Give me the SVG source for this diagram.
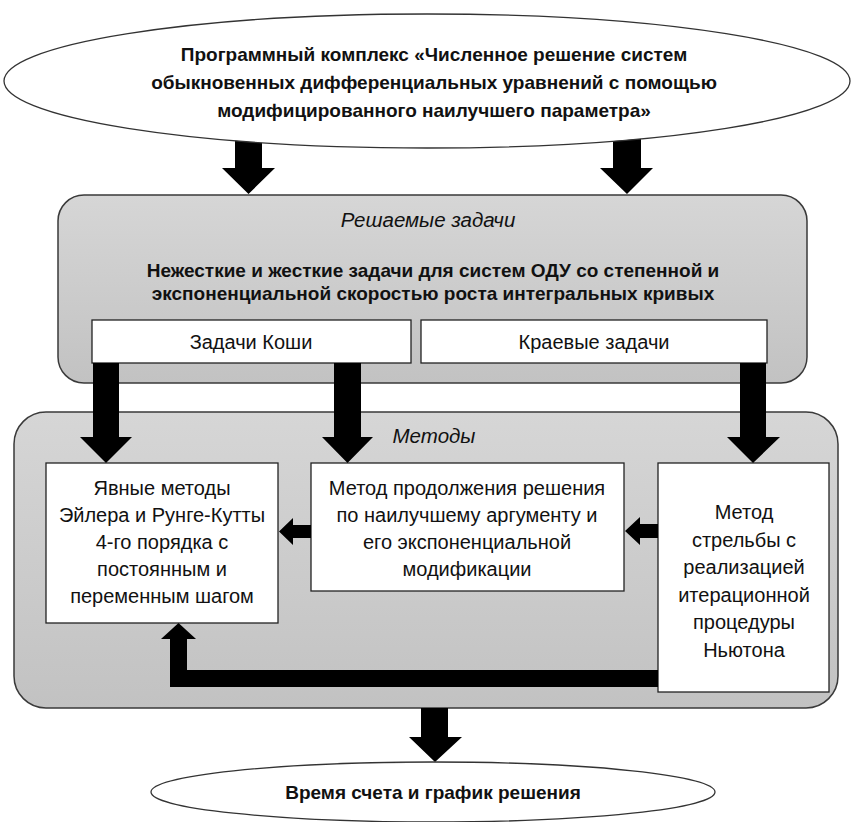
<svg xmlns="http://www.w3.org/2000/svg" width="852" height="822" viewBox="0 0 852 822">
<defs>
<linearGradient id="pg" x1="0" y1="0" x2="0" y2="1">
<stop offset="0" stop-color="#d6d6d6"/>
<stop offset="1" stop-color="#c2c2c2"/>
</linearGradient>
<style>
.panel{fill:url(#pg);stroke:#3a3a3a;stroke-width:1.5}
.box{fill:#ffffff;stroke:#222;stroke-width:1.3}
.ell{fill:#ffffff;stroke:#333;stroke-width:1.3}
.arrow{fill:#000}
text{font-family:"Liberation Sans Narrow","Liberation Sans",Arial,sans-serif;fill:#111;text-anchor:middle}
.b{font-weight:bold;font-size:19px}
.r{font-size:20px}
.i{font-style:italic;font-size:20.5px}
</style>
</defs>
<rect width="852" height="822" fill="#ffffff"/>

<g id="panel-tasks">
<rect class="panel" x="58" y="195" width="749" height="188" rx="26"/>
<text class="i" x="428" y="227">Решаемые задачи</text>
<text class="b" x="433" y="277">Нежесткие и жесткие задачи для систем ОДУ со степенной и</text>
<text class="b" x="433" y="300">экспоненциальной скоростью роста интегральных кривых</text>
</g>
<g id="box-cauchy">
<rect class="box" x="92" y="320" width="319" height="43"/>
<text class="r" x="251" y="349">Задачи Коши</text>
</g>
<g id="box-boundary">
<rect class="box" x="421" y="320" width="346" height="43"/>
<text class="r" x="594" y="349">Краевые задачи</text>
</g>

<g id="panel-methods">
<rect class="panel" x="14" y="412" width="824" height="296" rx="32"/>
<text class="i" x="434" y="443">Методы</text>
</g>
<g id="box-euler">
<rect class="box" x="46" y="463" width="232" height="160"/>
<text class="r" x="162" y="495">Явные методы</text>
<text class="r" x="162" y="522">Эйлера и Рунге-Кутты</text>
<text class="r" x="162" y="549">4-го порядка с</text>
<text class="r" x="162" y="576">постоянным и</text>
<text class="r" x="162" y="603">переменным шагом</text>
</g>
<g id="box-continuation">
<rect class="box" x="311" y="463" width="313" height="128"/>
<text class="r" x="467" y="495">Метод продолжения решения</text>
<text class="r" x="467" y="522">по наилучшему аргументу и</text>
<text class="r" x="467" y="549">его экспоненциальной</text>
<text class="r" x="467" y="576">модификации</text>
</g>
<g id="box-shooting">
<rect class="box" x="658" y="463" width="171" height="229"/>
<text class="r" x="744" y="519">Метод</text>
<text class="r" x="744" y="547">стрельбы с</text>
<text class="r" x="744" y="574">реализацией</text>
<text class="r" x="744" y="602">итерационной</text>
<text class="r" x="744" y="629">процедуры</text>
<text class="r" x="744" y="657">Ньютона</text>
</g>

<g id="connectors">
<polygon class="arrow" points="235,135 262,135 262,168 275,168 248.5,194 222,168 235,168"/>
<polygon class="arrow" points="613,135 641,135 641,168 653,168 627,194 600,168 613,168"/>
<polygon class="arrow" points="93,363 119,363 119,437 132,437 106,463 80,437 93,437"/>
<polygon class="arrow" points="334,363 361,363 361,437 373,437 347.5,463 322,437 334,437"/>
<polygon class="arrow" points="740,363 766,363 766,437 780,437 753,463 727,437 740,437"/>
<polygon class="arrow" points="311,525 293,525 293,518 279,531.5 293,545 293,538 311,538"/>
<polygon class="arrow" points="658,524 640,524 640,517 625,531 640,545 640,538 658,538"/>
<polygon class="arrow" points="658,670 658,687 170,687 170,639 161,639 178.5,623 196,639 187,639 187,670"/>
<polygon class="arrow" points="421,708 448,708 448,737 462,737 435,762 409,737 421,737"/>
</g>

<g id="ellipse-top">
<ellipse class="ell" cx="427" cy="81" rx="423" ry="67"/>
<text class="b" x="434" y="61">Программный комплекс «Численное решение систем</text>
<text class="b" x="434" y="89">обыкновенных дифференциальных уравнений с помощью</text>
<text class="b" x="434" y="117">модифицированного наилучшего параметра»</text>
</g>

<g id="ellipse-bottom">
<ellipse class="ell" cx="433" cy="792" rx="282" ry="30"/>
<text class="b" x="433" y="799">Время счета и график решения</text>
</g>
</svg>
